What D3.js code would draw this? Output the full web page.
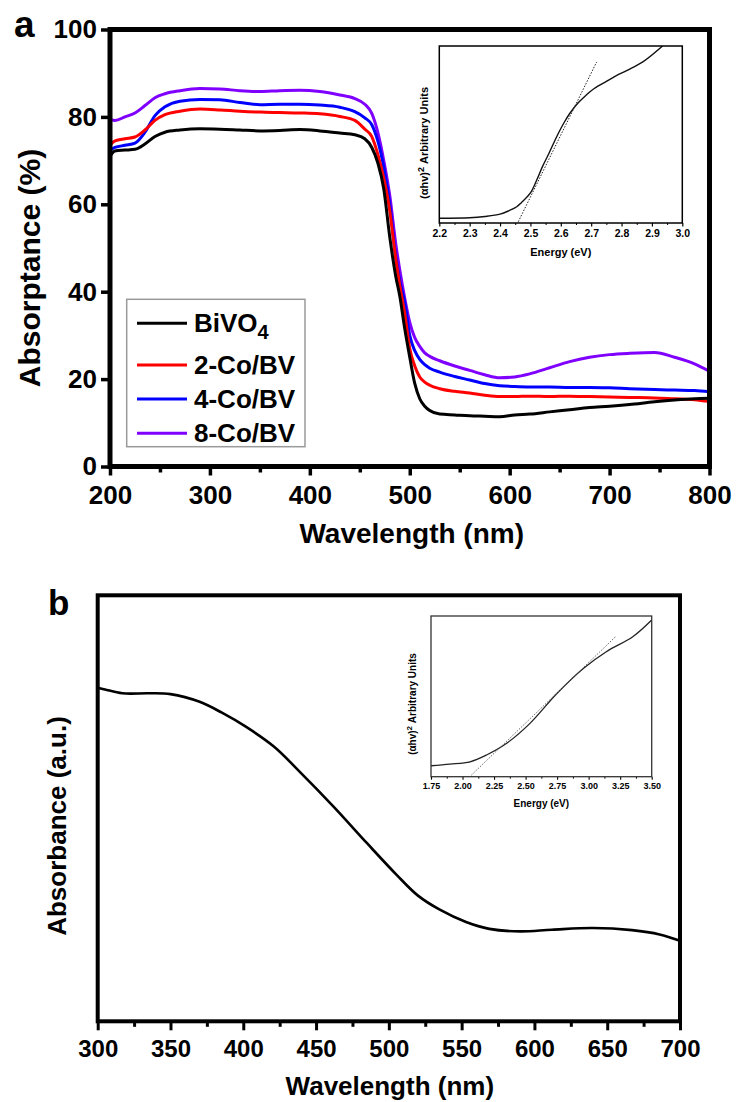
<!DOCTYPE html>
<html>
<head>
<meta charset="utf-8">
<script src="https://cdn.jsdelivr.net/npm/d3@7"></script>
<style>
  html, body { margin: 0; padding: 0; background: #fff; }
  svg { display: block; }
  text { font-family: "Liberation Sans", Arial, Helvetica, sans-serif; font-weight: bold; fill: #000; }
</style>
</head>
<body>
<svg id="chart" width="737" height="1102"></svg>
<script>
// ---------------- DATA: panel a (UV-vis absorptance) ----------------
const wavelengthA = [200,205,215,225,235,245,255,270,290,310,330,350,370,390,410,430,445,455,462,468,474,480,486,490,495,500,505,510,515,520,530,545,560,575,590,605,620,640,660,680,700,720,745,765,785,800];
const bivo4 = [71.0,72.2,72.4,72.6,73.8,75.5,76.5,77.0,77.3,77.2,77.0,76.8,76.9,77.1,76.8,76.3,75.9,75.0,73.0,69.5,63.5,52.5,43.5,39.0,31.5,25.0,19.0,15.5,13.8,12.8,12.0,11.8,11.6,11.5,11.4,11.8,12.0,12.5,13.0,13.5,13.8,14.2,14.8,15.2,15.5,15.6];
const co2 = [73.5,74.5,75.0,75.4,77.0,79.2,80.5,81.3,81.8,81.6,81.3,81.1,81.0,80.9,80.7,80.1,79.2,77.2,75.5,71.5,66.0,58.5,47.5,41.5,35.0,27.0,23.0,20.5,19.3,18.6,17.8,17.2,16.8,16.3,16.0,16.0,16.1,16.0,16.1,16.0,15.9,15.8,15.7,15.5,15.3,14.9];
const co4 = [72.3,73.0,73.5,74.0,76.5,80.3,82.3,83.6,84.0,83.9,83.3,82.8,82.9,82.9,82.7,82.2,81.2,79.8,78.2,74.5,68.5,60.0,48.0,42.5,37.5,30.0,26.5,24.5,23.3,22.5,21.6,20.6,19.8,19.0,18.5,18.3,18.2,18.2,18.1,18.1,18.0,17.8,17.6,17.5,17.4,17.1];
const co8 = [79.5,79.2,80.0,80.9,82.6,84.4,85.3,86.0,86.5,86.4,86.0,85.8,86.0,86.1,85.8,85.0,84.2,82.9,80.8,76.5,70.0,62.0,51.0,45.0,38.5,33.0,29.5,27.5,26.0,25.2,24.2,23.0,22.0,21.0,20.3,20.5,21.2,22.6,24.0,25.0,25.6,25.9,26.1,25.0,23.5,21.8];
const seriesNames = ["BiVO4", "2-Co/BV", "4-Co/BV", "8-Co/BV"];
const seriesColors = ["#000000", "#ff0000", "#0000ff", "#8000ff"];
const xTicksA = [200,300,400,500,600,700,800];
const yTicksA = [0,20,40,60,80,100];

// inset a (Tauc plot)
const energyA = [2.20,2.30,2.35,2.40,2.43,2.455,2.47,2.50,2.52,2.54,2.56,2.59,2.61,2.63,2.655,2.685,2.71,2.75,2.78,2.82,2.87,2.935];
const taucA   = [0.027,0.030,0.037,0.050,0.070,0.092,0.115,0.170,0.240,0.320,0.390,0.500,0.565,0.620,0.675,0.725,0.760,0.800,0.830,0.864,0.910,1.0];
const tangentAE = [2.46, 2.718];
const tangentAV = [0.007, 0.91];
const insetTicksA = [2.2,2.3,2.4,2.5,2.6,2.7,2.8,2.9,3.0];

// ---------------- DATA: panel b ----------------
const wavelengthB = [300,305,317,335,350,370,385,402,421,439,462,485,505,520,535,553,569,590,612,640,667,686,700];
const absB = [0.783,0.779,0.770,0.770,0.768,0.750,0.725,0.691,0.645,0.585,0.504,0.418,0.345,0.295,0.262,0.233,0.217,0.211,0.215,0.219,0.214,0.204,0.189];
const xTicksB = [300,350,400,450,500,550,600,650,700];

// inset b
const energyB = [1.75,1.90,2.06,2.19,2.35,2.535,2.75,2.96,3.14,3.35,3.50];
const taucB   = [0.068,0.078,0.093,0.135,0.208,0.332,0.519,0.675,0.778,0.871,0.975];
const tangentBE = [2.07, 3.22];
const tangentBV = [0.01, 0.876];
const insetTicksB = [1.75,2.00,2.25,2.50,2.75,3.00,3.25,3.50];

// ---------------- DRAW ----------------
const svg = d3.select("#chart");
const smooth = d3.curveCatmullRom.alpha(0.5);

function styleAxis(g, size, width) {
  g.select(".domain").remove();
  g.selectAll(".tick line").attr("stroke", "#000").attr("stroke-width", width);
  g.selectAll(".tick text").style("font-size", size + "px").attr("fill", "#000");
}

// ===== Panel a =====
const xA = d3.scaleLinear().domain([200, 800]).range([110, 709.5]);
const yA = d3.scaleLinear().domain([0, 100]).range([466.5, 29.5]);
const gA = svg.append("g");

gA.append("g").attr("transform", `translate(0,${yA(0)})`)
  .call(d3.axisBottom(xA).tickValues(d3.range(250, 800, 100)).tickSize(6).tickFormat(""))
  .call(g => styleAxis(g, 0, 3.5));
gA.append("g").attr("transform", `translate(0,${yA(0)})`)
  .call(d3.axisBottom(xA).tickValues(xTicksA).tickSize(9).tickPadding(10).tickFormat(d3.format("d")))
  .call(g => styleAxis(g, 26, 3.5));
gA.append("g").attr("transform", `translate(${xA(200)},0)`)
  .call(d3.axisLeft(yA).tickValues(yTicksA).tickSize(9).tickPadding(4).tickFormat(d3.format("d")))
  .call(g => styleAxis(g, 26, 3.5));

svg.append("clipPath").attr("id", "clipA").append("rect")
  .attr("x", xA(200)).attr("y", yA(100)).attr("width", xA(800) - xA(200)).attr("height", yA(0) - yA(100));
const seriesA = [bivo4, co2, co4, co8];
const lineA = d3.line().x((d, i) => xA(wavelengthA[i])).y(d => yA(d)).curve(d3.curveMonotoneX);
gA.append("g").attr("clip-path", "url(#clipA)")
  .selectAll("path").data(seriesA.map((s, i) => ({ s, i })).reverse())
  .join("path")
  .attr("d", d => lineA(d.s))
  .attr("fill", "none")
  .attr("stroke", d => seriesColors[d.i])
  .attr("stroke-width", 3);

gA.append("rect").attr("x", xA(200)).attr("y", yA(100))
  .attr("width", xA(800) - xA(200)).attr("height", yA(0) - yA(100))
  .attr("fill", "none").attr("stroke", "#000").attr("stroke-width", 5);

gA.append("text").attr("x", (xA(200) + xA(800)) / 2 + 2).attr("y", 543)
  .attr("text-anchor", "middle").style("font-size", "28px").text("Wavelength (nm)");
gA.append("text").attr("transform", "translate(40,268) rotate(-90)")
  .attr("text-anchor", "middle").style("font-size", "30px").text("Absorptance (%)");
gA.append("text").attr("x", 14).attr("y", 37).style("font-size", "37px").text("a");

// legend
const leg = gA.append("g");
leg.append("rect").attr("x", 126.7).attr("y", 299.3).attr("width", 178.3).attr("height", 147.4)
  .attr("fill", "#fff").attr("stroke", "#9a9a9a").attr("stroke-width", 1.5);
const legY = [323.3, 365, 399, 433.3];
seriesNames.forEach((name, i) => {
  leg.append("line").attr("x1", 137).attr("x2", 187).attr("y1", legY[i]).attr("y2", legY[i])
    .attr("stroke", seriesColors[i]).attr("stroke-width", 3);
  const t = leg.append("text").attr("x", 194).attr("y", legY[i]).attr("dy", "0.33em").style("font-size", "26px");
  if (name === "BiVO4") {
    t.append("tspan").text("BiVO");
    t.append("tspan").attr("dy", 7).style("font-size", "20px").text("4");
  } else {
    t.text(name);
  }
});

// inset a
const xIA = d3.scaleLinear().domain([2.2, 3.0]).range([439.3, 682.3]);
const yIA = d3.scaleLinear().domain([0, 1]).range([223, 46]);
const gIA = svg.append("g");
gIA.append("g").attr("transform", `translate(0,${yIA(0)})`)
  .call(d3.axisBottom(xIA).tickValues(d3.range(2.25, 3.0, 0.1)).tickSize(2).tickFormat(""))
  .call(g => styleAxis(g, 0, 1));
gIA.append("g").attr("transform", `translate(0,${yIA(0)})`)
  .call(d3.axisBottom(xIA).tickValues(insetTicksA).tickSize(3.5).tickPadding(3).tickFormat(d3.format(".1f")))
  .call(g => styleAxis(g, 10.5, 1.2));
svg.append("clipPath").attr("id", "clipIA").append("rect")
  .attr("x", xIA(2.2)).attr("y", yIA(1)).attr("width", xIA(3.0) - xIA(2.2)).attr("height", yIA(0) - yIA(1));
gIA.append("path").attr("clip-path", "url(#clipIA)")
  .attr("d", d3.line().x((d, i) => xIA(energyA[i])).y(d => yIA(d)).curve(smooth)(taucA))
  .attr("fill", "none").attr("stroke", "#111").attr("stroke-width", 1.4);
gIA.append("path")
  .attr("d", d3.line().x((d, i) => xIA(tangentAE[i])).y(d => yIA(d))(tangentAV))
  .attr("fill", "none").attr("stroke", "#222").attr("stroke-width", 1).attr("stroke-dasharray", "1.5,1.5");
gIA.append("rect").attr("x", xIA(2.2)).attr("y", yIA(1))
  .attr("width", xIA(3.0) - xIA(2.2)).attr("height", yIA(0) - yIA(1))
  .attr("fill", "none").attr("stroke", "#000").attr("stroke-width", 1.5);
gIA.append("text").attr("x", (xIA(2.2) + xIA(3.0)) / 2).attr("y", 255.5)
  .attr("text-anchor", "middle").style("font-size", "11px").text("Energy (eV)");
const ylA = gIA.append("text").attr("transform", "translate(427.5,143) rotate(-90)")
  .attr("text-anchor", "middle").style("font-size", "11px");
ylA.append("tspan").text("(\u03b1hv)");
ylA.append("tspan").attr("dy", -4).style("font-size", "9px").text("2");
ylA.append("tspan").attr("dy", 4).text(" Arbitrary Units");

// ===== Panel b =====
const xB = d3.scaleLinear().domain([300, 700]).range([97.7, 680]);
const yB = d3.scaleLinear().domain([0, 1]).range([1021.3, 595.3]);
const gB = svg.append("g");
gB.append("g").attr("transform", `translate(0,${yB(0)})`)
  .call(d3.axisBottom(xB).tickValues(d3.range(325, 700, 50)).tickSize(5.5).tickFormat(""))
  .call(g => styleAxis(g, 0, 3));
gB.append("g").attr("transform", `translate(0,${yB(0)})`)
  .call(d3.axisBottom(xB).tickValues(xTicksB).tickSize(9).tickPadding(10).tickFormat(d3.format("d")))
  .call(g => styleAxis(g, 24, 3));
gB.append("path")
  .attr("d", d3.line().x((d, i) => xB(wavelengthB[i])).y(d => yB(d)).curve(smooth)(absB))
  .attr("fill", "none").attr("stroke", "#000").attr("stroke-width", 2.6);
gB.append("rect").attr("x", xB(300)).attr("y", yB(1))
  .attr("width", xB(700) - xB(300)).attr("height", yB(0) - yB(1))
  .attr("fill", "none").attr("stroke", "#000").attr("stroke-width", 4);
gB.append("text").attr("x", (xB(300) + xB(700)) / 2 + 1).attr("y", 1095)
  .attr("text-anchor", "middle").style("font-size", "26px").text("Wavelength (nm)");
gB.append("text").attr("transform", "translate(66,826) rotate(-90)")
  .attr("text-anchor", "middle").style("font-size", "26px").text("Absorbance (a.u.)");
gB.append("text").attr("x", 48).attr("y", 615).style("font-size", "35px").text("b");

// inset b
const xIB = d3.scaleLinear().domain([1.75, 3.5]).range([431, 651.7]);
const yIB = d3.scaleLinear().domain([0, 1]).range([776.7, 616]);
const gIB = svg.append("g");
gIB.append("g").attr("transform", `translate(0,${yIB(0)})`)
  .call(d3.axisBottom(xIB).tickValues(d3.range(1.875, 3.5, 0.25)).tickSize(2).tickFormat(""))
  .call(g => styleAxis(g, 0, 1));
gIB.append("g").attr("transform", `translate(0,${yIB(0)})`)
  .call(d3.axisBottom(xIB).tickValues(insetTicksB).tickSize(3).tickPadding(3).tickFormat(d3.format(".2f")))
  .call(g => styleAxis(g, 9, 1.1));
gIB.selectAll(".tick text").attr("fill", "#222");
gIB.append("path")
  .attr("d", d3.line().x((d, i) => xIB(energyB[i])).y(d => yIB(d)).curve(smooth)(taucB))
  .attr("fill", "none").attr("stroke", "#222").attr("stroke-width", 1.3);
gIB.append("path")
  .attr("d", d3.line().x((d, i) => xIB(tangentBE[i])).y(d => yIB(d))(tangentBV))
  .attr("fill", "none").attr("stroke", "#666").attr("stroke-width", 1).attr("stroke-dasharray", "1.5,1.5");
gIB.append("rect").attr("x", xIB(1.75)).attr("y", yIB(1))
  .attr("width", xIB(3.5) - xIB(1.75)).attr("height", yIB(0) - yIB(1))
  .attr("fill", "none").attr("stroke", "#333").attr("stroke-width", 1.3);
gIB.append("text").attr("x", (xIB(1.75) + xIB(3.5)) / 2).attr("y", 806.5)
  .attr("text-anchor", "middle").style("font-size", "10px").attr("fill", "#222").text("Energy (eV)");
const ylB = gIB.append("text").attr("transform", "translate(416,704) rotate(-90)")
  .attr("text-anchor", "middle").style("font-size", "10px").attr("fill", "#222");
ylB.append("tspan").text("(\u03b1hv)");
ylB.append("tspan").attr("dy", -4).style("font-size", "8px").text("2");
ylB.append("tspan").attr("dy", 4).text(" Arbitrary Units");
</script>
</body>
</html>
